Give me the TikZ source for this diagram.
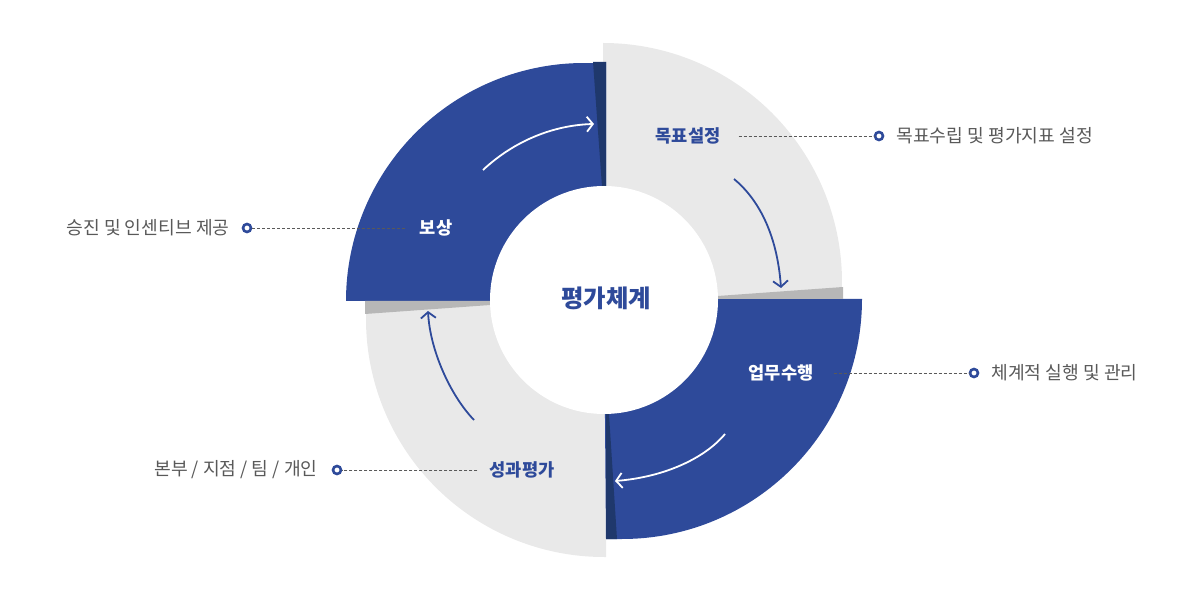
\documentclass[tikz,border=0pt]{standalone}
\usepackage{fontspec}
\setmainfont{Noto Sans CJK KR}
\usetikzlibrary{arrows.meta,positioning}
\definecolor{mainblue}{HTML}{2E4A9A}
\definecolor{foldblue}{HTML}{1F386C}
\definecolor{ringgray}{HTML}{E9E9E9}
\definecolor{foldgray}{HTML}{B7B7B7}
\definecolor{textgray}{HTML}{595959}
\tikzset{%
  ringdot/.style={circle, draw=mainblue, fill=white, line width=2.6pt, inner sep=0pt, minimum size=8pt},
  leader/.style={draw=textgray, dash pattern=on 3pt off 2pt, line width=0.8pt},
  stage/.style={font=\fontsize{17.6}{20}\selectfont\bfseries, inner xsep=18pt},
  remark/.style={font=\fontsize{18.2}{20}\selectfont, text=textgray, inner sep=0pt},
  flow/.style={line width=1.8pt, -{Straight Barb[length=6pt,width=15pt]}}
}

\begin{document}
\begin{tikzpicture}[x=1pt,y=-1pt]
    \useasboundingbox (0,0) rectangle (1200,601);
    % \draw (0,0) grid[step=100] (1200,601);

      \fill[ringgray] (603,300) -- (603,43) arc[start angle=-90, end angle=1.2, radius=239] -- (843,299) -- cycle;
      \fill[ringgray] (606,300) -- (606,557) -- (604,557) arc[start angle=90, end angle=182, radius=238] -- (366,300) -- cycle;
      \fill[mainblue] (604,299) -- (862,299) arc[start angle=0, end angle=90, radius=240] -- (606,539) -- cycle;
      \fill[mainblue] (606,301) -- (346,301) arc[start angle=180, end angle=272.2, radius=238] -- (606,62) -- cycle;

      \fill[foldgray] (712,296.4) -- (843,287) -- (843,299) -- (712,299) -- cycle;
      \fill[foldgray] (365,301) -- (496,301) -- (496,304.6) -- (365,314) -- cycle;
      \fill[foldblue] (593,62) -- (606,62) -- (606,192) -- (602.4,192) -- cycle;
      \fill[foldblue] (606,408) -- (608.6,408) -- (617,539) -- (606,539) -- cycle;

      \fill[white] (604,300) circle[radius=114];

      \draw[flow, white] (483,170) .. controls (515,140) and (555,125) .. (594,124);
      \draw[flow, mainblue] (734,179) .. controls (757,198) and (777,232) .. (781,288);
      \draw[flow, white] (725,434) .. controls (705,458) and (665,477) .. (615,481);
      \draw[flow, mainblue] (474,420) .. controls (450,395) and (430,350) .. (428,311);

      \node[font=\fontsize{24.4}{28}\selectfont\bfseries, text=mainblue] (core) at (606,298) {평가체계};

      \node[stage, text=mainblue] (goal) at (688,136) {목표설정};
      \node[ringdot] (goaldot) at (879,136) {};
      \node[remark, right=12pt of goaldot] (goalnote) {목표수립 및 평가지표 설정};
      \draw[leader] (goal) -- (goaldot);

      \node[stage, text=white, inner xsep=20pt] (work) at (781,373) {업무수행};
      \node[ringdot] (workdot) at (974,373) {};
      \node[remark, right=12pt of workdot] (worknote) {체계적 실행 및 관리};
      \draw[leader] (work) -- (workdot);

      \node[stage, text=mainblue, inner xsep=12pt] (review) at (522,470) {성과평가};
      \node[ringdot] (reviewdot) at (337,470) {};
      \node[remark, left=14pt of reviewdot] (reviewnote) {본부 / 지점 / 팀 / 개인};
      \draw[leader] (review) -- (reviewdot);

      \node[stage, text=white, inner xsep=15pt] (reward) at (436,228) {보상};
      \node[ringdot] (rewarddot) at (247,228) {};
      \node[remark, left=12pt of rewarddot] (rewardnote) {승진 및 인센티브 제공};
      \draw[leader] (reward) -- (rewarddot);

  \end{tikzpicture}
\end{document}
